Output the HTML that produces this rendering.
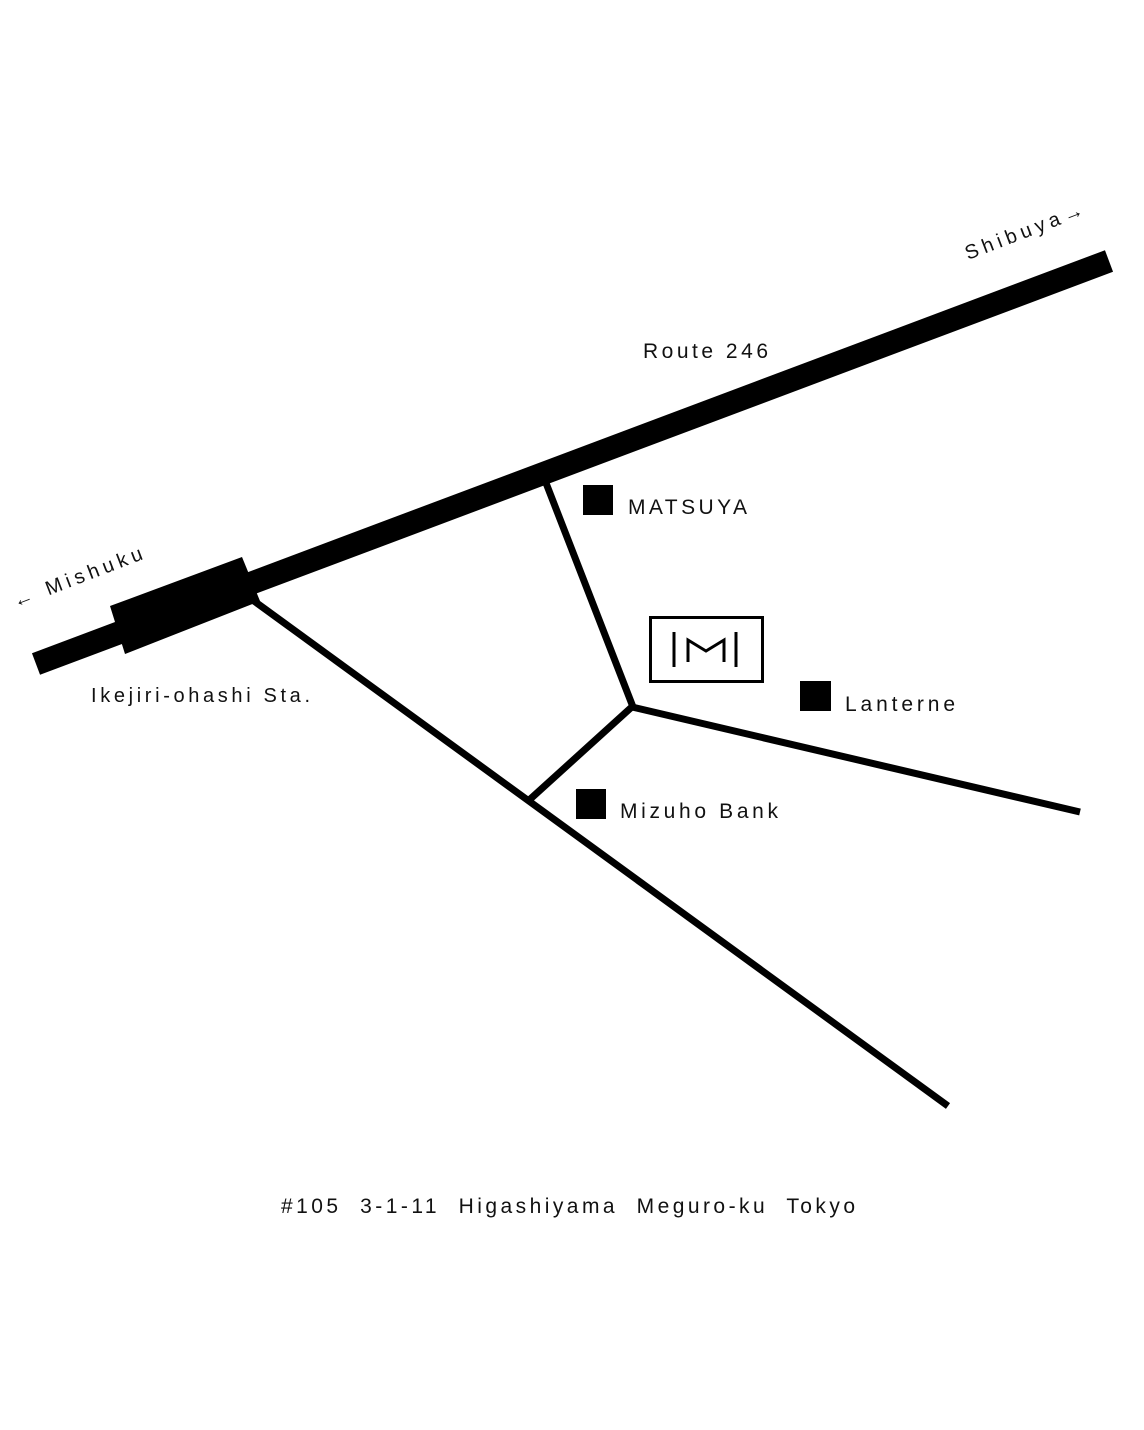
<!DOCTYPE html>
<html><head><meta charset="utf-8"><style>
html,body{margin:0;padding:0;background:#fff;}
svg{display:block;}
text{font-family:"Liberation Sans","DejaVu Sans",sans-serif;fill:#111;}
</style></head><body>
<svg width="1144" height="1430" viewBox="0 0 1144 1430" xmlns="http://www.w3.org/2000/svg">
<rect width="1144" height="1430" fill="#fff"/>
<line x1="36" y1="664" x2="1109" y2="261" stroke="#000" stroke-width="23"/>
<polygon points="110,606 242,557 260,601 125,654" fill="#000"/>
<g stroke="#000" stroke-width="7" fill="none">
<line x1="254" y1="601" x2="948" y2="1106"/>
<line x1="546" y1="483" x2="633" y2="707"/>
<line x1="634" y1="705" x2="527" y2="802"/>
<line x1="632" y1="707" x2="1080" y2="812"/>
</g>
<rect x="650.5" y="617.5" width="112" height="64" fill="none" stroke="#000" stroke-width="3"/>
<g stroke="#000" stroke-width="3" fill="none">
<line x1="674" y1="632" x2="674" y2="667"/>
<line x1="736" y1="632" x2="736" y2="667"/>
<polyline points="688,662 688,640 706,651 724,640 724,662"/>
</g>
<rect x="583" y="485" width="30" height="30" fill="#000"/>
<rect x="800" y="681" width="31" height="30" fill="#000"/>
<rect x="576" y="789" width="30" height="30" fill="#000"/>
<text x="643" y="358" font-size="21" textLength="125" lengthAdjust="spacing">Route 246</text>
<text x="628" y="514" font-size="21" textLength="119" lengthAdjust="spacing">MATSUYA</text>
<text x="845" y="711" font-size="21" textLength="110" lengthAdjust="spacing">Lanterne</text>
<text x="620" y="818" font-size="21" textLength="158" lengthAdjust="spacing">Mizuho Bank</text>
<text x="91" y="702" font-size="20" textLength="219" lengthAdjust="spacing">Ikejiri-ohashi Sta.</text>
<text x="281" y="1213" font-size="21" textLength="574" lengthAdjust="spacing" xml:space="preserve">#105  3-1-11  Higashiyama  Meguro-ku  Tokyo</text>
<text transform="translate(968,260) rotate(-21)" font-size="20" textLength="125" lengthAdjust="spacing">Shibuya→</text>
<text transform="translate(16,608) rotate(-21)" font-size="20" textLength="137" lengthAdjust="spacing">← Mishuku</text>
</svg>
</body></html>
